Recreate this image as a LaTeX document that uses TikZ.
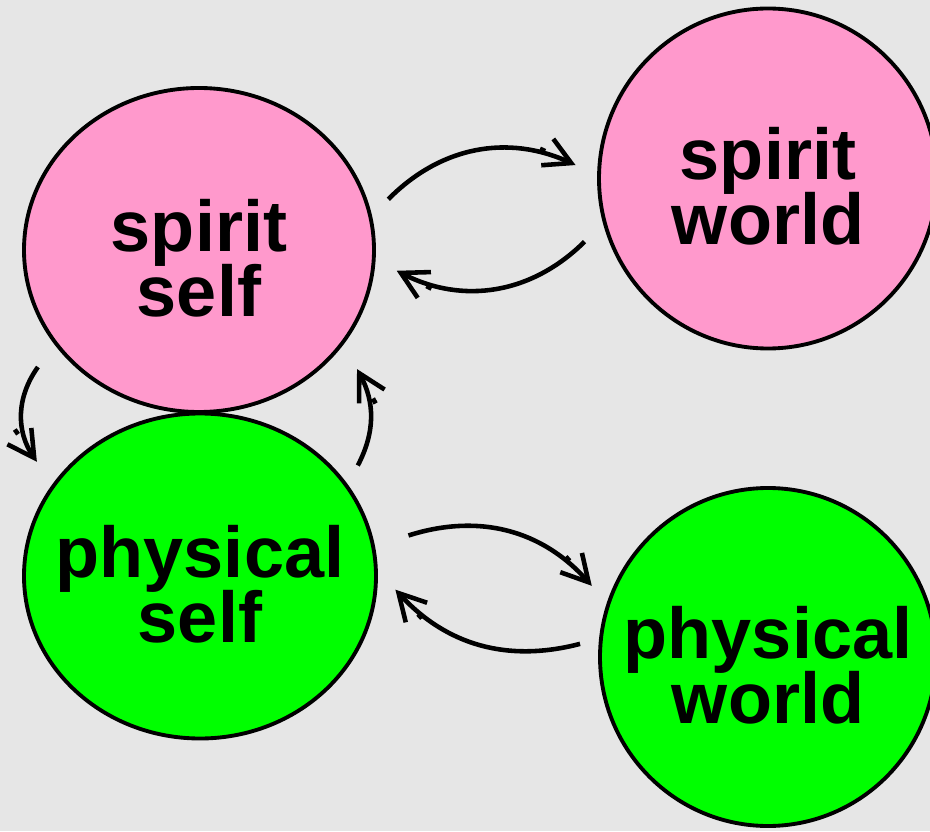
\documentclass[tikz,border=0pt]{standalone}
\usepackage{fontspec}
\setmainfont{Liberation Sans}
\usetikzlibrary{arrows.meta,shapes.geometric}
\definecolor{spiritpink}{HTML}{FF99CC}
\definecolor{physgreen}{HTML}{00FF00}
\definecolor{bggray}{HTML}{E6E6E6}
\setlength{\lineskiplimit}{-100pt}
\begin{document}
\begin{tikzpicture}[
  blob/.style={ellipse,draw=black,line width=2.2pt,inner sep=0pt},
  lbl/.style={align=center,yshift=-0.16cm,font=\fontsize{41}{37}\selectfont\bfseries},
  flow/.style={line width=2.6pt,-{Butt Cap[] Straight Barb[length=15pt,width=16.5pt,sep=0pt]}}]
\fill[bggray] (0,0) rectangle (18.6,16.62);
\useasboundingbox (0,0) rectangle (18.6,16.62);
\node[blob,fill=spiritpink,minimum width=7cm,minimum height=6.48cm,
  label={[lbl]center:{spirit\\self}}] (sself) at (3.98,11.62) {};
\node[blob,fill=spiritpink,minimum width=6.76cm,minimum height=6.8cm,
  label={[lbl]center:{spirit\\world}}] (sworld) at (15.36,13.05) {};
\node[blob,fill=physgreen,minimum width=7.04cm,minimum height=6.5cm,
  label={[lbl]center:{physical\\self}}] (pself) at (4.0,5.1) {};
\node[blob,fill=physgreen,minimum width=6.72cm,minimum height=6.76cm,
  label={[lbl]center:{physical\\world}}] (pworld) at (15.36,3.48) {};
\draw[flow] ([shift={(15:0.4)}]sself.15) to[bend left=35] ([shift={(176:0.44)}]sworld.176);
\draw[flow] ([shift={(199:0.46)}]sworld.199) to[bend left=36] ([shift={(-6:0.44)}]sself.-6);
\draw[flow] ([shift={(216:0.54)}]sself.216) to[bend right=35] ([shift={(145:0.52)}]pself.145);
\draw[flow] ([shift={(35:0.39)}]pself.35) to[bend right=28] ([shift={(-37:0.52)}]sself.-37);
\draw[flow] ([shift={(11:0.7)}]pself.11) to[bend left=33] ([shift={(158:0.4)}]pworld.158);
\draw[flow] ([shift={(176:0.37)}]pworld.176) to[bend left=31] ([shift={(-4:0.36)}]pself.-4);
\end{tikzpicture}
\end{document}
